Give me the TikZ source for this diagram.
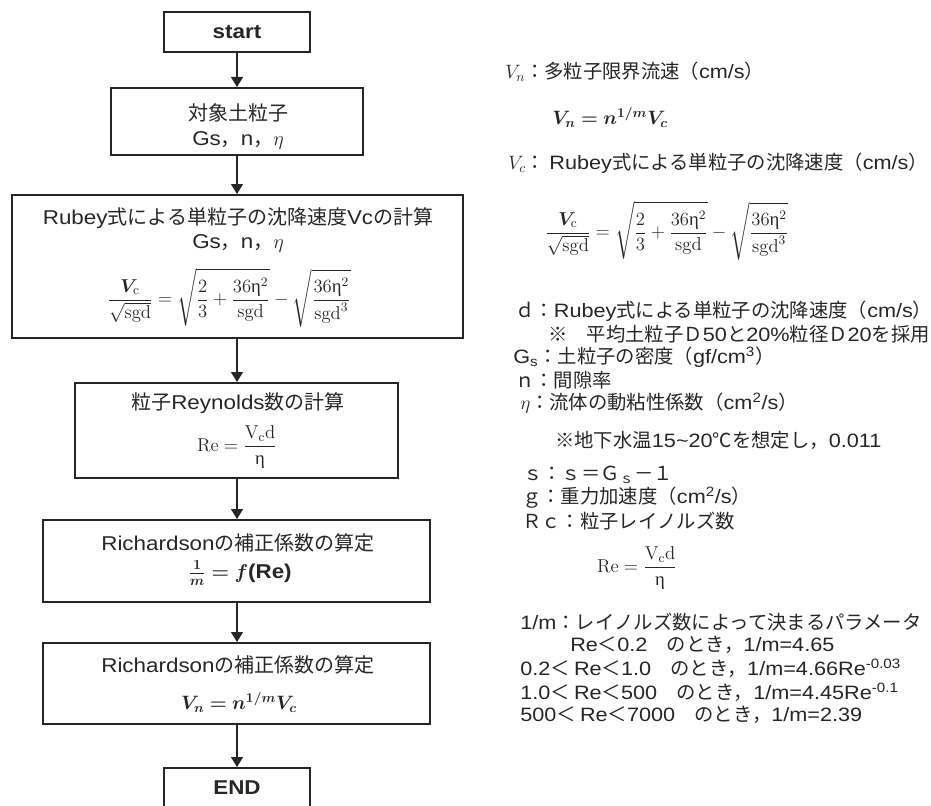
\RequirePackage{fix-cm}
\documentclass[tikz,border=0pt]{standalone}
\usepackage{amsmath}
\usepackage{bm}
\usepackage[no-math]{fontspec}
\setmainfont{Liberation Sans}[FakeStretch=1.12]
\newfontfamily\jp{Noto Sans CJK JP}
\newfontfamily\gk{Liberation Serif}
\usetikzlibrary{arrows.meta}
\definecolor{ink}{HTML}{262626}
\newcommand\JP[1]{{\jp #1}}
\newcommand\ueta{\text{\gk η}}
\newcommand\rubeyeq{$\displaystyle \frac{\bm{V}_{\mathrm{c}}}{\sqrt{\mathrm{sgd}}}=\sqrt{\frac{2}{3}+\frac{36\ueta^{2}}{\mathrm{sgd}}}-\sqrt{\frac{36\ueta^{2}}{\mathrm{sgd}^{3}}}$}
\newcommand\reeq{$\displaystyle \mathrm{Re}=\frac{\mathrm{V}_{\mathrm{c}}\mathrm{d}}{\ueta}$}
\newcommand\vneq{$\bm{V_n=n^{1/m}V_c}$}
\tikzset{
  box/.style={draw=ink, line width=1.5pt, inner sep=0pt},
  arr/.style={draw=ink, line width=1.1pt, -{Triangle[width=9pt,length=7.5pt]}},
  txt/.style={inner sep=0pt, text=ink, font=\fontsize{15}{18}\selectfont},
  rt/.style={inner sep=0pt, text=ink, anchor=west, font=\fontsize{14.5}{17}\selectfont},
  mathsz/.style={font=\fontsize{14}{17}\selectfont},
}
\begin{document}
\begin{tikzpicture}[x=0.75pt,y=-0.75pt]
\useasboundingbox (0,0) rectangle (931,806);
\clip (0,0) rectangle (931,806);
% flowchart boxes
\node[box, minimum width=109.5pt, minimum height=30pt] (nstart) at (237,32) {};
\node[box, minimum width=189pt, minimum height=50.25pt] (nobj) at (237,121.5) {};
\node[box, minimum width=338.25pt, minimum height=107.25pt] (nrub) at (237.5,266.5) {};
\node[box, minimum width=242.25pt, minimum height=71.25pt] (nrey) at (236.5,430.5) {};
\node[box, minimum width=290.25pt, minimum height=61.5pt] (nri1) at (236.5,561) {};
\node[box, minimum width=290.25pt, minimum height=60.75pt] (nri2) at (236.5,683.5) {};
\node[box, minimum width=109.5pt, minimum height=34.5pt] (nend) at (237,791) {};
% box texts
\node[txt, font=\fontsize{15}{18}\selectfont\bfseries] (tstart) at (237,32) {start};
\node[txt] (t2a) at (238,113) {\JP{対象土粒子}};
\node[txt] (t2b) at (238,140) {Gs\JP{，}n\JP{，}$\eta$};
\node[txt] (t3a) at (238,218) {Rubey\JP{式による単粒子の沈降速度}Vc\JP{の計算}};
\node[txt] (t3b) at (238,243) {Gs\JP{，}n\JP{，}$\eta$};
\node[txt, mathsz] (t3c) at (229,298) {\rubeyeq};
\node[txt, mathsz] (t4b) at (237,447) {\reeq};
\node[txt] (t4a) at (238,403) {\JP{粒子}Reynolds\JP{数の計算}};
\node[txt] (t5a) at (238,543) {Richardson\JP{の補正係数の算定}};
\node[txt] (t5b) at (240,573) {$\bm{\frac{1}{m}=f}$\bfseries(Re)};
\node[txt] (t6a) at (238,665) {Richardson\JP{の補正係数の算定}};
\node[txt, font=\fontsize{14.5}{17}\selectfont] (t6b) at (239,702) {\vneq};
\node[txt, font=\fontsize{15}{18}\selectfont\bfseries] (tend) at (237,788) {END};
% arrows
\draw[arr] (nstart.south) -- (nstart.south |- nobj.north);
\draw[arr] (nobj.south) -- (nobj.south |- nrub.north);
\draw[arr] (nobj.south |- nrub.south) -- (nobj.south |- nrey.north);
\draw[arr] (nobj.south |- nrey.south) -- (nobj.south |- nri1.north);
\draw[arr] (nobj.south |- nri1.south) -- (nobj.south |- nri2.north);
\draw[arr] (nobj.south |- nri2.south) -- (nobj.south |- nend.north);
% right-hand notes
\node[rt] (r1) at (505,72) {$V_n$\JP{：多粒子限界流速（}cm/s\JP{）}};
\node[rt] (r2) at (552,117) {\vneq};
\node[rt] (r3) at (508,163) {$V_c$\JP{： }Rubey\JP{式による単粒子の沈降速度（}cm/s\JP{）}};
\node[rt, mathsz] (r4) at (545,231) {\rubeyeq};
\node[rt] (r5) at (515,311) {\JP{ｄ：}Rubey\JP{式による単粒子の沈降速度（}cm/s\JP{）}};
\node[rt] (r6) at (548,334) {\JP{※　平均土粒子Ｄ}50\JP{と}20\%\JP{粒径Ｄ}20\JP{を採用}};
\node[rt] (r7) at (513,357) {G\textsubscript{s}\JP{：土粒子の密度（}gf/cm\textsuperscript{3}\JP{）}};
\node[rt] (r8) at (515,380) {\JP{ｎ：間隙率}};
\node[rt] (r9) at (520,403) {$\eta$\JP{：流体の動粘性係数（}cm\textsuperscript{2}/s\JP{）}};
\node[rt] (r10) at (555,440) {\JP{※地下水温}15\textasciitilde 20\JP{℃を想定し，}0.011};
\node[rt] (r11) at (523,475) {\JP{ｓ：ｓ＝Ｇ}\textsubscript{\JP{ｓ}}\JP{－１}};
\node[rt] (r12) at (522,498) {\JP{ｇ：重力加速度（}cm\textsuperscript{2}/s\JP{）}};
\node[rt] (r13) at (522,521) {\JP{Ｒｃ：粒子レイノルズ数}};
\node[rt, mathsz, anchor=center] (r14) at (637,568) {\reeq};
\node[rt] (r15) at (520,622) {1/m\JP{：レイノルズ数によって決まるパラメータ}};
\node[rt] (r16) at (570,645) {Re\JP{＜}0.2\JP{　のとき，}1/m=4.65};
\node[rt] (r17) at (520,668) {0.2\JP{＜ }Re\JP{＜}1.0\JP{　のとき，}1/m=4.66Re\textsuperscript{-0.03}};
\node[rt] (r18) at (520,692) {1.0\JP{＜ }Re\JP{＜}500\JP{　のとき，}1/m=4.45Re\textsuperscript{-0.1}};
\node[rt] (r19) at (520,715) {500\JP{＜ }Re\JP{＜}7000\JP{　のとき，}1/m=2.39};
\end{tikzpicture}
\end{document}
